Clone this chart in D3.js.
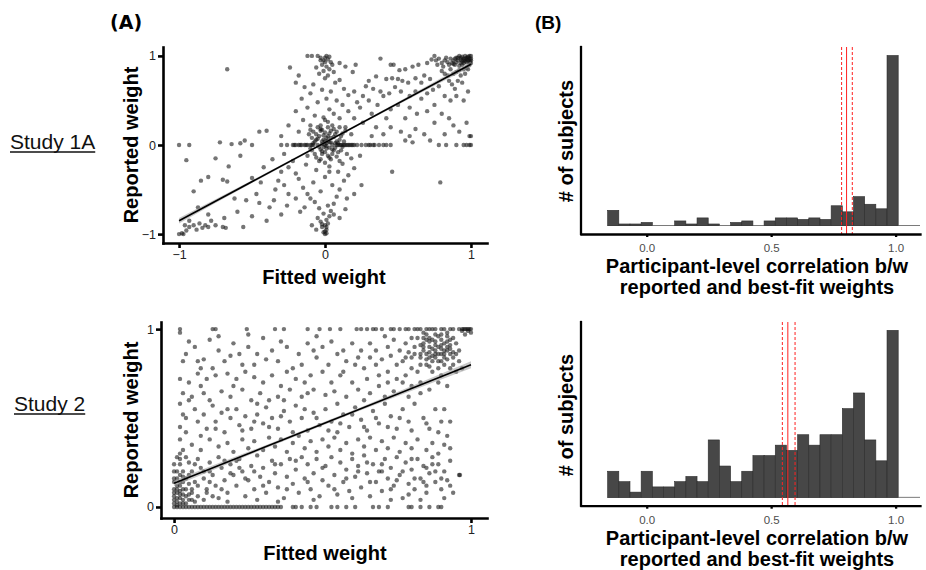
<!DOCTYPE html>
<html>
<head>
<meta charset="utf-8">
<script src="https://cdn.jsdelivr.net/npm/d3@7"></script>
<style>
  body { margin: 0; background: #fff; }
  svg { display: block; font-family: "Liberation Sans", Arial, sans-serif; }
</style>
</head>
<body>
<svg id="fig" width="926" height="570"></svg>
<script>
// ---- data ----

// Study 1A: fitted vs reported weight
const study1Points = [
  [1,1],[0.99,1],[0.98,0.99],[0.97,0.98],[0.96,1],[0.95,0.97],[0.94,0.99],[0.93,0.96],[0.92,1],[0.91,0.95],
  [0.9,0.98],[0.99,0.97],[0.98,0.95],[0.97,0.93],[0.96,0.94],[0.95,0.92],[0.94,0.9],[0.93,0.92],[0.92,0.89],[0.9,0.93],
  [0.89,0.9],[0.88,0.95],[0.87,0.92],[0.86,0.97],[0.85,0.9],[0.84,0.93],[0.83,0.98],[0.82,0.95],[0.81,0.88],[0.8,0.92],
  [0.78,0.97],[0.77,0.9],[0.76,0.95],[0.75,1],[0.73,0.96],[0.99,0.9],[0.97,0.87],[0.95,0.85],[0.92,0.84],[0.9,0.82],
  [0.88,0.8],[0.86,0.85],[0.84,0.78],[0.82,0.8],[0.8,0.83],[0.93,0.78],[0.96,0.8],[0.91,0.72],[0.87,0.68],[1,0.95],
  [1,0.92],[0.98,0.85],[0.85,0.72],[0.89,0.63],[0.94,0.7],
  [0.98,0.98],[0.97,0.96],[0.99,0.95],[0.96,0.97],[0.95,0.95],[0.93,0.98],[0.91,0.98],[0.89,0.97],[0.88,0.91],[0.94,0.94],
  [1,0.97],[0.99,0.93],
  [0.7,0.92],[0.64,0.9],[0.6,0.88],[0.55,0.85],[0.51,0.84],[0.47,0.9],[0.45,0.9],[0.38,0.97],[0.42,0.74],[0.46,0.75],
  [0.5,0.74],[0.53,0.72],[0.57,0.7],[0.62,0.75],[0.66,0.7],[0.68,0.78],[0.72,0.74],[0.35,0.77],[0.3,0.72],[0.28,0.66],
  [0.33,0.63],[0.38,0.6],[0.4,0.55],[0.44,0.58],[0.48,0.65],[0.52,0.6],[0.58,0.55],[0.62,0.6],[0.66,0.52],[0.7,0.58],
  [0.74,0.62],[0.78,0.66],[0.82,0.55],[0.86,0.5],[0.9,0.55],[0.95,0.5],[0.98,0.6],[0.75,0.45],[0.7,0.38],[0.63,0.35],
  [0.58,0.42],[0.55,0.3],[0.5,0.45],[0.45,0.4],[0.42,0.3],[0.36,0.45],[0.32,0.35],[0.3,0.5],[0.26,0.55],[0.24,0.42],
  [0.8,0.35],[0.85,0.3],[0.88,0.22],[0.92,0.15],[0.97,0.25],[0.62,0.18],[0.68,0.12],[0.58,0.1],[0.52,0.15],[0.45,0.2],
  [0.4,0.12],[0.35,0.2],[0.32,0.1],[0.75,0.25],[0.82,0.12],[0.99,0.1],[1,0.1],[0.72,0.05],
  [0.78,0],[0.83,0],[0.9,0],[0.95,0],[0.97,0],[1,0],[0.99,0],[0.6,0.03],[0.55,0.05],[0.46,-0.3],[0.79,-0.42],
  [-0.05,1],[0,0.98],[0.02,0.96],[-0.03,0.95],[0.04,0.93],[-0.02,0.9],[0.01,0.88],[0.05,0.9],[-0.06,0.87],[0.03,0.85],
  [-0.01,0.83],[0.06,0.82],[-0.04,0.8],[0.02,0.78],[0,0.75],[-0.12,1],[-0.09,1],[-0.24,0.87],[-0.18,0.78],[-0.2,0.7],
  [0.01,1],[-0.03,0.98],[0.03,0.99],[0,0.93],[-0.01,0.95],
  [0.1,0.92],[0.14,0.88],[0.21,0.9],[0.19,0.82],[0.1,0.73],[0.07,0.7],[-0.08,0.68],[-0.14,0.65],[0.13,0.63],[-0.02,0.62],
  [0.04,0.6],[-0.1,0.58],[0.16,0.56],[0.2,0.6],[-0.16,0.52],[0.01,0.52],[0.08,0.5],[-0.05,0.48],[0.12,0.45],[0.22,0.48],
  [-0.12,0.42],[0.03,0.4],[-0.2,0.38],[0.16,0.38],[0.06,0.35],[-0.07,0.33],[0.1,0.3],[-0.15,0.28],[0,0.28],[0.2,0.3],
  [0.26,0.25],[-0.1,0.22],[0.05,0.22],[0.14,0.2],[-0.03,0.18],[0.08,0.15],[-0.18,0.15],[0.18,0.12],[-0.4,0.16],[-0.45,0.15],
  [-0.25,0.22],[-0.3,0.1],
  [0,0],[0.01,0.02],[-0.01,-0.02],[0.02,0.05],[-0.02,0.04],[0.03,-0.03],[-0.03,-0.05],[0.04,0.08],[-0.04,0.1],[0.05,0],
  [-0.05,0],[0.06,-0.06],[-0.06,0.06],[0.07,0.12],[-0.07,-0.1],[0.08,0.04],[-0.08,0.02],[0.09,-0.08],[-0.09,0.08],[0.1,0.06],
  [-0.1,-0.04],[0.11,0.1],[0.12,-0.02],[-0.11,0.12],[0,0.14],[0.02,-0.12],[-0.02,0.17],[0.04,-0.16],[0.06,0.18],[-0.04,-0.18],
  [0,-0.08],[0.01,0.08],[-0.01,0.11],[0.03,0.13],[-0.03,0.16],[0.05,-0.1],[0.07,0.02],[-0.06,-0.14],[0.08,-0.13],[-0.08,0.15],
  [0.13,0.04],[0.14,0.16],[0.15,-0.1],[-0.12,-0.12],[0.02,0.2],[-0.05,0.2],[0.1,-0.18],[0,-0.2],[0.03,0.03],[-0.02,-0.07],
  [0.01,-0.04],[-0.01,0.06],[0.02,0.1],[-0.02,-0.1],[0.04,0.03],[-0.04,-0.02],[0.06,0.09],[-0.06,0.12],[0.05,-0.05],[-0.05,0.07],
  [0.09,0.02],[-0.09,-0.06],[0.03,-0.14],[-0.03,0.22],[0.07,-0.03],[-0.07,0.04],[0.11,-0.06],[0.02,0.26],[-0.01,0.31],[0.03,-0.3],
  [0,0.04],[0.01,-0.01],[-0.02,0.01],[0.12,0.13],[0.04,0.16],[-0.03,-0.16],[0.1,0.2],[-0.1,0.17],
  [-0.22,0],[-0.2,0],[-0.18,0],[-0.16,0],[-0.14,0],[-0.12,0],[-0.1,0],[-0.08,0],[0.08,0],[0.1,0],
  [0.12,0],[0.14,0],[0.16,0],[0.18,0],[0.2,0],[0.22,0],[0.25,0],[0.28,0],[0.31,0],[0.34,0],
  [0.37,0],[0.42,0],[0.45,0],[-0.3,0],[-0.26,0],[-0.21,0],[-0.17,0],[-0.13,0],[-0.09,0],[0.09,0],
  [0.11,0],[0.13,0],[0.15,0],[0.17,0],[0.19,0],[0.3,0],[0.33,0],[0.4,0],
  [-1,0],[-0.93,0],[-0.72,0.03],[-0.64,0.01],[-0.58,0.02],[-0.5,0],[-0.67,0.85],[-0.55,0.05],
  [0,-1],[-0.01,-0.98],[0.01,-0.95],[-0.02,-0.92],[0,-0.9],[0.02,-0.88],[-0.03,-0.86],[0.01,-0.84],[-0.05,-0.82],[0.03,-0.8],
  [0,-0.97],[0.01,-0.92],[-0.02,-0.89],[0.01,-0.99],
  [-0.01,-0.77],[0.04,-0.74],[-0.04,-0.71],[0.02,-0.68],[0.06,-0.66],[-0.07,-0.64],[-0.1,-0.6],[0.08,-0.58],[-0.12,-0.55],[-0.03,-0.52],
  [0.1,-0.5],[-0.15,-0.48],[0.05,-0.45],[-0.08,-0.42],[0.13,-0.4],[-0.18,-0.38],[0,-0.36],[0.16,-0.34],[-0.2,-0.32],[0.09,-0.3],
  [-0.06,-0.28],[0.2,-0.26],[-0.25,-0.25],[0.03,-0.24],[-0.13,-0.22],[0.12,-0.21],[0.18,-0.15],[0.24,-0.12],[-0.22,-0.18],[-0.17,-0.75],
  [-0.14,-0.7],[0.14,-0.72],[0.1,-0.82],[-0.09,-0.9],[0.06,-0.78],[-0.06,-0.95],[-0.2,-0.6],[-0.25,-0.55],[-0.28,-0.45],[-0.32,-0.4],
  [0.25,-0.45],[0.2,-0.55],[0.15,-0.6],
  [-1,-1],[-0.98,-0.99],[-0.97,-1],[-0.95,-0.96],[-0.93,-0.92],[-0.9,-0.9],[-0.88,-0.95],[-0.86,-0.88],[-0.84,-0.93],[-0.82,-0.9],
  [-0.8,-0.92],[-0.78,-0.85],[-0.75,-0.9],[-0.7,-0.92],[-0.68,-0.93],[-0.69,-0.82],[-0.8,-0.78],[-0.87,-0.7],[-0.9,-0.52],[-0.95,-0.17],
  [-0.8,-0.36],[-0.7,-0.39],[-0.67,-0.41],[-0.66,-0.24],[-0.62,-0.6],[-0.56,-0.92],[-0.54,-0.62],[-0.5,-0.37],[-0.47,-0.55],[-0.44,-0.42],
  [-0.42,-0.25],[-0.38,-0.7],[-0.36,-0.16],[-0.34,-0.5],[-0.3,-0.3],[-0.28,-0.1],[-0.6,-0.75],[-0.5,-0.8],[-0.45,-0.65],[-0.4,-0.85],
  [-0.35,-0.62],[-0.3,-0.78],[-0.26,-0.68],[-0.58,-0.12],[-0.75,-0.15],[-0.85,-0.4],[-0.93,-0.85],[-0.96,-0.9]
];

// Study 2: fitted vs reported weight
const study2Points = [
  [0.02,1],[0.13,1],[0.14,1],[0.245,1],[0.34,1],[0.37,1],[0.45,1],[0.49,1],[0.525,1],[0.56,1],
  [0.615,1],[0.63,1],[0.65,1],[0.67,1],[0.68,1],[0.7,1],[0.73,1],[0.74,1],[0.76,1],[0.78,1],
  [0.79,1],[0.81,1],[0.82,1],[0.83,1],[0.85,1],[0.86,1],[0.87,1],[0.88,1],[0.9,1],[0.91,1],
  [0.93,1],[0.94,1],[0.96,1],[0.97,1],[0.98,1],[0.99,1],[1,1],[0.995,1],[0.985,1],[0.975,1],
  [0.82,0.95],[0.84,0.92],[0.85,0.97],[0.86,0.9],[0.87,0.94],[0.88,0.88],[0.89,0.96],[0.9,0.91],[0.91,0.86],[0.92,0.93],
  [0.93,0.89],[0.94,0.84],[0.95,0.92],[0.83,0.86],[0.85,0.83],[0.87,0.85],[0.89,0.82],[0.91,0.8],[0.93,0.78],[0.86,0.79],
  [0.88,0.93],[0.9,0.97],[0.92,0.88],[0.94,0.95],[0.84,0.98],[0.81,0.9],[0.8,0.84],[0.83,0.8],[0.86,0.87],[0.88,0.84],
  [0.9,0.86],[0.92,0.83],[0.89,0.9],[0.91,0.92],[0.87,0.89],[0.85,0.94],[0.93,0.94],[0.95,0.86],[0.94,0.8],[0.96,0.88],
  [0.78,0.92],[0.79,0.87],[0.77,0.82],[0.76,0.88],[0.82,0.76],[0.87,0.76],[0.9,0.74],[0.95,0.76],[0.96,0.82],[0.84,0.88],
  [0.86,0.95],[0.88,0.97],[0.9,0.89],[0.92,0.96],[0.91,0.84],[0.89,0.86],[0.93,0.86],[0.85,0.86],[0.83,0.91],[0.8,0.95],
  [0.97,0.78],[0.74,0.94],[0.72,0.9],[0.75,0.8],[0.73,0.85],[0.7,0.83],[0.68,0.88],[0.66,0.92],[0.71,0.96],[0.98,0.97],
  [0.99,0.99],[0.97,0.99],[1,0.98],
  [0.84,0.9],[0.86,0.93],[0.88,0.91],[0.9,0.94],[0.92,0.9],[0.87,0.82],[0.89,0.78],[0.91,0.88],[0.93,0.91],[0.85,0.8],
  [0.83,0.84],[0.81,0.86],[0.88,0.86],[0.9,0.82],[0.86,0.84],[0.84,0.95],[0.92,0.98],[0.94,0.87],[0.8,0.78],[0.78,0.84],
  [0.02,0.98],[0.04,0.86],[0.03,0.82],[0.07,0.9],[0.1,0.83],[0.12,0.94],[0.15,0.88],[0.17,0.82],[0.2,0.92],[0.22,0.86],
  [0.25,0.9],[0.27,0.8],[0.3,0.95],[0.33,0.88],[0.35,0.82],[0.38,0.9],[0.4,0.78],[0.42,0.86],[0.45,0.92],[0.48,0.84],
  [0.5,0.9],[0.52,0.8],[0.55,0.86],[0.57,0.76],[0.6,0.92],[0.62,0.84],[0.64,0.78],[0.65,0.72],[0.6,0.7],[0.56,0.74],
  [0.53,0.7],[0.5,0.76],[0.46,0.74],[0.44,0.7],[0.41,0.72],[0.38,0.76],[0.36,0.68],[0.33,0.74],[0.3,0.7],[0.27,0.73],
  [0.24,0.76],[0.21,0.72],[0.18,0.75],[0.14,0.74],[0.11,0.72],[0.08,0.75],[0.05,0.7],[0.02,0.72],[0.03,0.64],[0.06,0.62],
  [0.09,0.68],[0.12,0.6],[0.16,0.65],[0.19,0.62],[0.23,0.66],[0.26,0.6],[0.29,0.64],[0.32,0.6],[0.35,0.62],[0.39,0.66],
  [0.43,0.62],[0.47,0.66],[0.51,0.63],[0.54,0.65],[0.58,0.62],[0.62,0.66],[0.66,0.64],[0.69,0.68],[0.72,0.7],[0.74,0.65],
  [0.77,0.7],[0.8,0.68],[0.83,0.7],[0.86,0.66],[0.89,0.7],[0.92,0.68],[0.78,0.74],[0.72,0.76],[0.68,0.8],[0.63,0.88],
  [0.58,0.82],[0.48,0.96],[0.28,0.86],[0.15,0.96],[0.09,0.78],[0.25,0.97],
  [0.05,0.93],[0.08,0.82],[0.13,0.78],[0.19,0.85],[0.23,0.8],[0.31,0.83],[0.36,0.93],[0.43,0.8],[0.47,0.88],[0.53,0.93],
  [0.57,0.88],[0.61,0.8],[0.66,0.84],[0.69,0.74],[0.75,0.72],[0.79,0.62],[0.83,0.64],[0.71,0.62],[0.64,0.6],[0.55,0.58],
  [0.45,0.64],[0.37,0.6],[0.28,0.58],[0.2,0.68],[0.1,0.64],[0.05,0.6],
  [0.02,0.58],[0.03,0.52],[0.02,0.45],[0.04,0.42],[0.02,0.38],[0.07,0.55],[0.08,0.48],[0.1,0.52],[0.11,0.44],[0.13,0.57],
  [0.14,0.48],[0.16,0.53],[0.17,0.42],[0.19,0.5],[0.21,0.55],[0.22,0.46],[0.24,0.51],[0.26,0.44],[0.28,0.52],[0.3,0.47],
  [0.31,0.56],[0.33,0.5],[0.35,0.44],[0.37,0.54],[0.39,0.48],[0.41,0.57],[0.43,0.5],[0.45,0.43],[0.47,0.53],[0.49,0.46],
  [0.51,0.55],[0.53,0.48],[0.55,0.42],[0.57,0.52],[0.59,0.45],[0.61,0.56],[0.63,0.49],[0.65,0.43],[0.67,0.54],[0.69,0.47],
  [0.71,0.58],[0.73,0.51],[0.75,0.44],[0.77,0.55],[0.79,0.48],[0.81,0.58],[0.84,0.5],[0.86,0.44],[0.88,0.55],[0.9,0.48],
  [0.92,0.4],[0.06,0.35],[0.09,0.32],[0.12,0.38],[0.15,0.34],[0.18,0.36],[0.2,0.31],[0.23,0.38],[0.25,0.33],[0.27,0.37],
  [0.3,0.32],[0.32,0.39],[0.34,0.34],[0.36,0.38],[0.38,0.31],[0.4,0.36],[0.42,0.4],[0.44,0.33],[0.46,0.37],[0.48,0.31],
  [0.5,0.38],[0.52,0.34],[0.54,0.39],[0.56,0.32],[0.58,0.36],[0.6,0.3],[0.62,0.38],[0.64,0.34],[0.66,0.39],[0.68,0.32],
  [0.7,0.37],[0.72,0.33],[0.74,0.39],[0.76,0.31],[0.78,0.36],[0.8,0.33],[0.82,0.38],[0.85,0.32],[0.87,0.36],[0.89,0.3],
  [0.91,0.35],[0.93,0.33],[0.03,0.32],[0.04,0.28],
  [0.04,0.5],[0.09,0.4],[0.14,0.44],[0.18,0.55],[0.23,0.43],[0.27,0.48],[0.32,0.45],[0.36,0.51],[0.4,0.42],[0.44,0.55],
  [0.48,0.5],[0.52,0.43],[0.56,0.47],[0.6,0.52],[0.64,0.45],[0.68,0.5],[0.72,0.45],[0.76,0.5],[0.8,0.43],[0.85,0.47],
  [0.89,0.42],[0.93,0.48],[0.91,0.55],
  [0.01,0.28],[0.02,0.24],[0.03,0.2],[0.04,0.16],[0.05,0.25],[0.06,0.2],[0.07,0.14],[0.08,0.27],[0.09,0.22],[0.1,0.16],
  [0.11,0.1],[0.12,0.25],[0.13,0.18],[0.14,0.12],[0.15,0.28],[0.16,0.22],[0.17,0.15],[0.18,0.08],[0.19,0.24],[0.2,0.18],
  [0.21,0.12],[0.22,0.27],[0.23,0.2],[0.24,0.06],[0.25,0.15],[0.26,0.23],[0.27,0.1],[0.28,0.29],[0.29,0.17],[0.3,0.22],
  [0.31,0.08],[0.32,0.14],[0.33,0.26],[0.34,0.19],[0.35,0.11],[0.36,0.24],[0.37,0.05],[0.38,0.17],[0.39,0.27],[0.4,0.13],
  [0.41,0.21],[0.42,0.08],[0.43,0.28],[0.44,0.16],[0.45,0.24],[0.46,0.1],[0.47,0.19],[0.48,0.27],[0.49,0.06],[0.5,0.15],
  [0.51,0.23],[0.52,0.12],[0.53,0.28],[0.54,0.18],[0.55,0.07],[0.56,0.25],[0.57,0.14],[0.58,0.21],[0.59,0.09],[0.6,0.27],
  [0.61,0.17],[0.62,0.23],[0.63,0.11],[0.64,0.29],[0.65,0.19],[0.66,0.06],[0.67,0.24],[0.68,0.14],[0.69,0.2],[0.7,0.09],
  [0.71,0.27],[0.72,0.16],[0.73,0.22],[0.74,0.12],[0.75,0.28],[0.76,0.18],[0.77,0.05],[0.78,0.25],[0.79,0.13],[0.8,0.21],
  [0.81,0.1],[0.82,0.27],[0.83,0.16],[0.84,0.23],[0.85,0.08],[0.86,0.19],[0.87,0.28],[0.88,0.14],[0.89,0.24],[0.9,0.1],
  [0.91,0.2],[0.92,0.15],[0.93,0.26],[0.94,0.08],[0.96,0.18],[0.06,0.1],[0.08,0.06],[0.1,0.04],[0.13,0.06],[0.15,0.05],
  [0.03,0.1],[0.05,0.13],[0.12,0.2],[0.17,0.26],[0.22,0.22],[0.65,0.25],[0.7,0.2],[0.75,0.15],[0.8,0.27],[0.85,0.22],
  [0.88,0.2],[0.84,0.14],[0.79,0.07],[0.963,0.18],
  [0.02,0.3],[0.05,0.18],[0.07,0.24],[0.1,0.2],[0.12,0.14],[0.16,0.1],[0.19,0.19],[0.21,0.26],[0.24,0.16],[0.27,0.2],
  [0.3,0.12],[0.34,0.24],[0.38,0.1],[0.41,0.26],[0.45,0.14],[0.5,0.22],[0.54,0.1],[0.58,0.16],[0.62,0.2],[0.66,0.14],
  [0.7,0.24],[0.73,0.1],[0.77,0.2],[0.81,0.16],[0.85,0.12],[0.87,0.24],[0.9,0.16],[0.93,0.12],[0.91,0.05],[0.83,0.04],
  [0.73,0.04],[0.6,0.05],[0.47,0.04],[0.35,0.03],[0.28,0.04],[0.18,0.03],[0.11,0.08],[0.08,0.12],
  [0,0],[0.01,0],[0.02,0],[0.03,0],[0.05,0],[0.06,0],[0.08,0],[0.1,0],[0.12,0],[0.14,0],
  [0.15,0],[0.17,0],[0.19,0],[0.2,0],[0.22,0],[0.24,0],[0.25,0],[0.27,0],[0.28,0],[0.3,0],
  [0.31,0],[0.33,0],[0.34,0],[0.36,0],[0.4,0],[0.41,0],[0.43,0],[0.46,0],[0.48,0],[0.53,0],
  [0.55,0],[0.58,0],[0.61,0],[0.67,0],[0.69,0],[0.72,0],[0.79,0],[0.8,0],[0.83,0],[0.86,0],
  [0.89,0],[0.9,0],[0.04,0],[0.07,0],[0.09,0],[0.11,0],[0.13,0],[0.16,0],[0.18,0],[0.21,0],
  [0.23,0],[0.26,0],[0.29,0],[0.32,0],[0.35,0],
  [0,0.02],[0.01,0.03],[0.02,0.05],[0,0.06],[0.01,0.08],[0.03,0.04],[0.02,0.02],[0,0.1],[0.01,0.12],[0.03,0.07],
  [0.04,0.02],[0.02,0.09],[0,0.14],[0.01,0.16],[0.04,0.06],[0.05,0.04],[0.02,0.12],[0,0.04],[0.03,0.14],[0.06,0.08],
  [0.07,0.03],[0.01,0.01],[0.02,0.18],[0,0.2],[0,0.08],[0.01,0.05],[0.02,0.07],[0.03,0.02],[0.01,0.1],[0.02,0.14],
  [0,0.16],[0.04,0.1],[0.05,0.07],[0.06,0.04],[0.01,0.2],[0.03,0.17],[0,0.24],[0.02,0.27]
];

// linear fits: [intercept, slope] and ribbon half-widths at x
const study1Fit = [0.028, 0.878];
const study1Band = [[-1, 0.03], [-0.5, 0.016], [0, 0.01], [0.5, 0.016], [1, 0.03]];
const study2Fit = [0.133, 0.667];
const study2Band = [[0, 0.016], [0.5, 0.008], [1, 0.02]];

// histograms of participant-level correlations
const binStart = -0.157;
const binWidth = 0.0449;
const study1Counts = [10,1,1,2,0,0,3,1,5,1,0,2,3,0,3,5,5,4,5,4,13,9,19,14,11,112];
const study2Counts = [5,3,1,5,2,2,3,4,3,11,6,3,5,8,8,10,9,12,10,12,12,17,20,11,7,32];
// mean correlation with CI [lower, mean, upper]
const study1Mean = [0.783, 0.803, 0.826];
const study2Mean = [0.545, 0.567, 0.596];

const histTicks = [0, 0.5, 1.0];

// ---- drawing ----
const svg = d3.select("#fig");
const black = "#000";

function styleAxis(g, sw, fs, col) {
  g.select(".domain").attr("stroke", black).attr("stroke-width", sw).attr("stroke-linecap", "square");
  g.selectAll(".tick line").attr("stroke", black).attr("stroke-width", sw);
  g.selectAll(".tick text").attr("fill", col).style("font-size", fs + "px")
    .style("font-family", '"Liberation Sans", Arial, sans-serif');
}

function drawScatter(o) {
  const x = d3.scaleLinear().domain(o.xDomain).range(o.xRange);
  const y = d3.scaleLinear().domain(o.yDomain).range(o.yRange);
  const g = svg.append("g");

  g.append("g").selectAll("circle").data(o.points).join("circle")
    .attr("cx", d => x(d[0])).attr("cy", d => y(d[1]))
    .attr("r", 2.2).attr("fill", "#111").attr("fill-opacity", 0.58);

  const f = o.fit;
  const band = d3.area()
    .x(d => x(d[0]))
    .y0(d => y(f[0] + f[1] * d[0] - d[1]))
    .y1(d => y(f[0] + f[1] * d[0] + d[1]))
    .curve(d3.curveMonotoneX);
  g.append("path").datum(o.band).attr("d", band).attr("fill", "#9a9a9a").attr("fill-opacity", 0.55);

  const x0 = o.band[0][0], x1 = o.band[o.band.length - 1][0];
  g.append("line")
    .attr("x1", x(x0)).attr("y1", y(f[0] + f[1] * x0))
    .attr("x2", x(x1)).attr("y2", y(f[0] + f[1] * x1))
    .attr("stroke", black).attr("stroke-width", 1.6);

  const ax = g.append("g").attr("transform", `translate(0,${o.yRange[0]})`)
    .call(d3.axisBottom(x).tickValues(o.ticksX).tickSize(5).tickSizeOuter(0).tickPadding(2).tickFormat(d3.format("d")));
  styleAxis(ax, 2.6, 12.5, "#222");
  const ay = g.append("g").attr("transform", `translate(${o.xRange[0]},0)`)
    .call(d3.axisLeft(y).tickValues(o.ticksY).tickSize(5).tickSizeOuter(0).tickPadding(2).tickFormat(d3.format("d")));
  styleAxis(ay, 2.6, 12.5, "#222");

  g.append("text").attr("x", o.xTitle[0]).attr("y", o.xTitle[1])
    .attr("text-anchor", "middle").attr("font-weight", "bold").attr("font-size", 20)
    .text("Fitted weight");
  g.append("text").attr("transform", `translate(${o.yTitle[0]},${o.yTitle[1]}) rotate(-90)`)
    .attr("text-anchor", "middle").attr("font-weight", "bold").attr("font-size", 20)
    .text("Reported weight");
}

function drawHist(o) {
  const x = d3.scaleLinear().domain([-0.264, 1.098]).range([581, 920]);
  const y = d3.scaleLinear().domain(o.yDomain).range([o.bottom, o.top]);
  const g = svg.append("g");
  const bins = o.counts.map((c, i) => ({ x0: binStart + i * binWidth, x1: binStart + (i + 1) * binWidth, c }));

  g.append("line")
    .attr("x1", x(binStart)).attr("x2", 920)
    .attr("y1", y(0)).attr("y2", y(0))
    .attr("stroke", "#7a7a7a").attr("stroke-width", 1);

  g.append("g").selectAll("rect").data(bins.filter(d => d.c > 0)).join("rect")
    .attr("x", d => x(d.x0)).attr("width", d => x(d.x1) - x(d.x0))
    .attr("y", d => y(d.c)).attr("height", d => y(0) - y(d.c))
    .attr("fill", "#474747").attr("stroke", "#2b2b2b").attr("stroke-width", 0.6);

  g.append("g").selectAll("line").data(o.mean).join("line")
    .attr("x1", d => x(d)).attr("x2", d => x(d))
    .attr("y1", o.top).attr("y2", o.bottom)
    .attr("stroke", "#ff2020").attr("stroke-width", 1)
    .attr("stroke-dasharray", (d, i) => i === 1 ? null : "3,2");

  const ax = g.append("g").attr("transform", `translate(0,${o.bottom})`)
    .call(d3.axisBottom(x).tickValues(histTicks).tickSize(3).tickSizeOuter(0).tickPadding(7).tickFormat(d3.format(".1f")));
  styleAxis(ax, 2.3, 11.5, "#4d4d4d");
  g.append("line").attr("x1", 581).attr("x2", 581).attr("y1", o.top).attr("y2", o.bottom)
    .attr("stroke", black).attr("stroke-width", 2.3).attr("stroke-linecap", "square");

  g.append("text").attr("transform", `translate(573,${o.yMid}) rotate(-90)`)
    .attr("text-anchor", "middle").attr("font-weight", "bold").attr("font-size", 20)
    .text("# of subjects");
  const t = g.append("text").attr("text-anchor", "middle").attr("font-weight", "bold").attr("font-size", 20);
  t.append("tspan").attr("x", 757).attr("y", o.titleY[0]).text("Participant-level correlation b/w");
  t.append("tspan").attr("x", 757).attr("y", o.titleY[1]).text("reported and best-fit weights");
}

drawScatter({
  points: study1Points, fit: study1Fit, band: study1Band,
  xDomain: [-1.11, 1.11], xRange: [163, 487],
  yDomain: [-1.1, 1.1], yRange: [243, 47],
  ticksX: [-1, 0, 1], ticksY: [-1, 0, 1],
  xTitle: [324, 284], yTitle: [138, 145]
});
drawScatter({
  points: study2Points, fit: study2Fit, band: study2Band,
  xDomain: [-0.044, 1.054], xRange: [161, 487],
  yDomain: [-0.062, 1.04], yRange: [518, 322],
  ticksX: [0, 1], ticksY: [0, 1],
  xTitle: [325, 560], yTitle: [138, 420]
});
drawHist({ counts: study1Counts, mean: study1Mean, yDomain: [-5.6, 117.6], top: 47, bottom: 234, yMid: 141, titleY: [272.5, 293.5] });
drawHist({ counts: study2Counts, mean: study2Mean, yDomain: [-1.6, 33.6], top: 322, bottom: 505.7, yMid: 415, titleY: [545, 566] });

// panel letters
svg.append("text").attr("x", 110).attr("y", 29).attr("font-weight", "bold").attr("font-size", 19)
  .attr("font-family", "DejaVu Sans").text("(A)");
svg.append("text").attr("x", 535).attr("y", 29).attr("font-weight", "bold").attr("font-size", 19).text("(B)");

// study labels, underlined
[["Study 1A", 10, 149], ["Study 2", 14, 411]].forEach(([s, x, y]) => {
  const t = svg.append("text").attr("x", x).attr("y", y).attr("font-size", 21).attr("fill", "#111").text(s);
  const w = t.node().getComputedTextLength();
  svg.append("line").attr("x1", x).attr("x2", x + w).attr("y1", y + 3).attr("y2", y + 3)
    .attr("stroke", "#111").attr("stroke-width", 1.4);
});
</script>
</body>
</html>
